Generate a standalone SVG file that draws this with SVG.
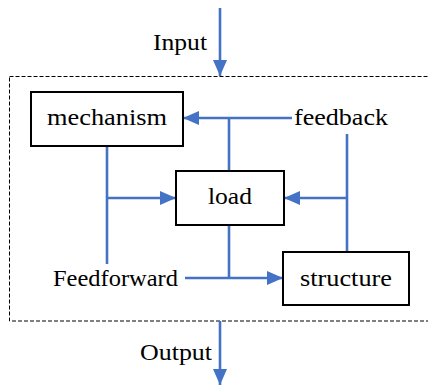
<svg xmlns="http://www.w3.org/2000/svg" width="428" height="385" viewBox="0 0 428 385">
<defs>
<marker id="a" viewBox="0 0 16 14" refX="16" refY="7" markerWidth="16" markerHeight="14" orient="auto" markerUnits="userSpaceOnUse">
<path d="M0,0 L16,7 L0,14 Z" fill="#4472C4"/>
</marker>
</defs>
<style>
.box{fill:#fff;stroke:#000;stroke-width:2}
.ln{fill:none;stroke:#4472C4;stroke-width:2.6}
.t{font-family:"Liberation Serif","Times New Roman",serif;font-size:23px;fill:#000}
</style>
<rect x="0" y="0" width="428" height="385" fill="#fff"/>
<rect x="9.5" y="76.5" width="430" height="244.5" fill="none" stroke="#000" stroke-width="1" stroke-dasharray="4,2"/>
<g id="connectors">
<path class="ln" d="M220,8 V76" marker-end="url(#a)"/>
<path class="ln" d="M220,321 V385" marker-end="url(#a)"/>
<path class="ln" d="M292,118 H183" marker-end="url(#a)"/>
<path class="ln" d="M229,118 V171"/>
<path class="ln" d="M107,146 V264"/>
<path class="ln" d="M107,198 H176" marker-end="url(#a)"/>
<path class="ln" d="M347,134 V252"/>
<path class="ln" d="M347,198 H284" marker-end="url(#a)"/>
<path class="ln" d="M229,225 V278"/>
<path class="ln" d="M185,278 H283" marker-end="url(#a)"/>
</g>
<g id="mechanism">
<rect class="box" x="31" y="92" width="152" height="54"/>
<text class="t" x="107" y="125" text-anchor="middle" textLength="120" lengthAdjust="spacingAndGlyphs">mechanism</text>
</g>
<g id="load">
<rect class="box" x="176" y="171" width="108" height="54"/>
<text class="t" x="230" y="204" text-anchor="middle" textLength="44" lengthAdjust="spacingAndGlyphs">load</text>
</g>
<g id="structure">
<rect class="box" x="283" y="252" width="126" height="53"/>
<text class="t" x="346" y="286" text-anchor="middle" textLength="92" lengthAdjust="spacingAndGlyphs">structure</text>
</g>
<g id="labels">
<text class="t" x="153" y="50" textLength="54" lengthAdjust="spacingAndGlyphs">Input</text>
<text class="t" x="294" y="125" textLength="94" lengthAdjust="spacingAndGlyphs">feedback</text>
<text class="t" x="53" y="286" textLength="125" lengthAdjust="spacingAndGlyphs">Feedforward</text>
<text class="t" x="140" y="360" textLength="72" lengthAdjust="spacingAndGlyphs">Output</text>
</g>
</svg>
